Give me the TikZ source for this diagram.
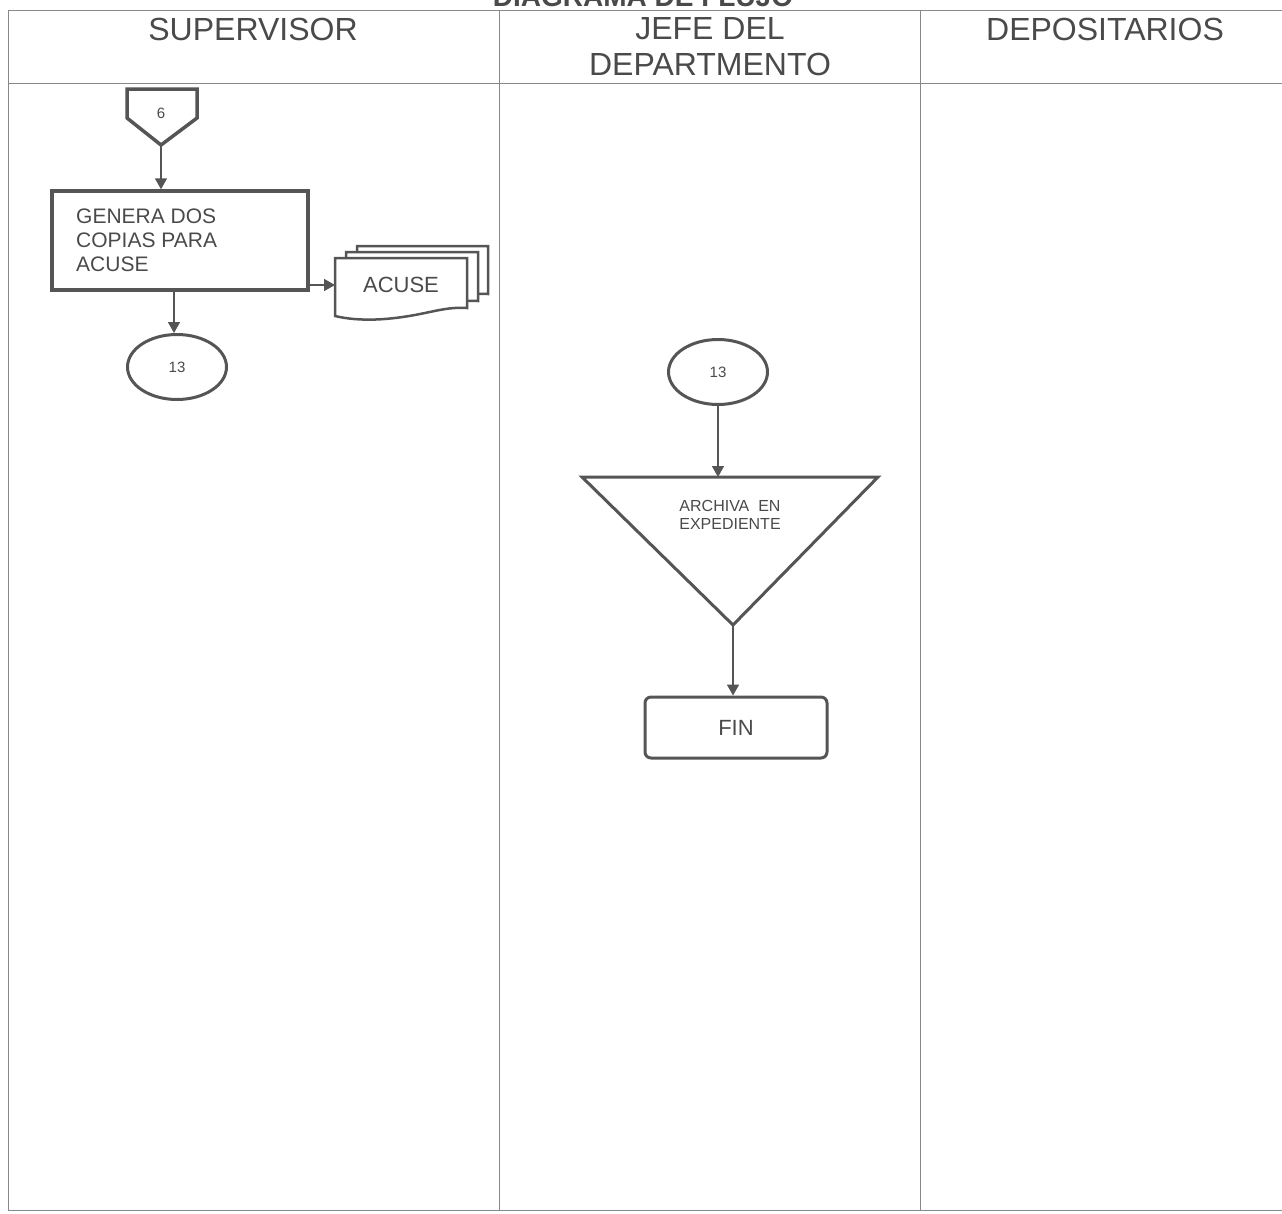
\documentclass[tikz,border=0pt]{standalone}
\usepackage{fontspec}
\setmainfont{Liberation Sans}
\usetikzlibrary{shapes.geometric,arrows.meta}
\definecolor{ln}{HTML}{555555}
\definecolor{tx}{HTML}{4A4A4A}
\tikzset{
  lane/.style={draw=ln!70, line width=1pt},
  hdr/.style={text=tx, font=\fontsize{32}{36}\selectfont, align=center, inner sep=0pt},
  thick box/.style={draw=ln, line width=3.5pt},
  conn/.style={draw=ln, line width=1.6pt, -{Triangle[length=11pt,width=12pt]}},
  lbl/.style={text=tx, inner sep=0pt},
}
\begin{document}
\begin{tikzpicture}[x=1pt,y=-1pt]
\useasboundingbox (0,0) rectangle (1282,1213);
% title (cut off at top, as in the reference)
\node[anchor=base, font=\bfseries\fontsize{28}{30}\selectfont, text=tx, inner sep=0pt] (title) at (643,6) {DIAGRAMA DE FLUJO};
% table
\draw[lane] (8,10) -- (1282,10);
\draw[lane] (8,83) -- (1282,83);
\draw[lane] (8,10) -- (8,1210);
\draw[lane] (499,10) -- (499,1210);
\draw[lane] (920,10) -- (920,1210);
\draw[lane] (8,1210) -- (1282,1210);
\node[hdr] (h1) at (253,29) {SUPERVISOR};
\node[hdr] (h2) at (710,47) {JEFE DEL\\DEPARTMENTO};
\node[hdr] (h3) at (1105,29) {DEPOSITARIOS};
% off-page connector 6
\draw[thick box, line join=miter] (127,89) -- (197,89) -- (197,118) -- (161,145) -- (127,118) -- cycle;
\node[lbl, font=\fontsize{15}{17}\selectfont] (c6) at (161,113) {6};
\coordinate (c6b) at (161,145);
% process box
\node[thick box, minimum width=256pt, minimum height=99pt, inner sep=0pt] (gen) at (180,240.5) {};
\node[lbl, anchor=north west, align=left, font=\fontsize{21}{24}\selectfont] (gent) at (76,209) {GENERA DOS\\COPIAS PARA\\ACUSE};
\draw[conn] (c6b) -- (gen.north -| c6b);
% ellipse 13 left
\node[draw=ln, line width=3pt, ellipse, minimum width=99pt, minimum height=65pt, inner sep=0pt, font=\fontsize{15}{17}\selectfont, text=tx] (e1) at (177,367) {13};
\draw[conn] (174,290) -- (174,333);
% document stack
\begin{scope}[draw=ln, line width=2.5pt, fill=white]
\filldraw (357,246) -- (488,246) -- (488,294) .. controls (470,293) and (460,296) .. (440,300) .. controls (410,306) and (380,308) .. (357,302) -- cycle;
\filldraw (346,252) -- (478,252) -- (478,301) .. controls (460,300) and (450,303) .. (430,307) .. controls (400,313) and (370,315) .. (346,309) -- cycle;
\filldraw (335,258) -- (467,258) -- (467,308) .. controls (450,307) and (440,310) .. (420,314) .. controls (390,320) and (360,322) .. (335,316) -- cycle;
\end{scope}
\node[lbl, font=\fontsize{22}{24}\selectfont] (acuse) at (401,285) {ACUSE};
\coordinate (acuseL) at (335,285);
\draw[conn] (gen.east |- acuseL) -- (acuseL);
% right lane
\node[draw=ln, line width=3pt, ellipse, minimum width=99pt, minimum height=65pt, inner sep=0pt, font=\fontsize{15}{17}\selectfont, text=tx] (e2) at (718,372) {13};
\draw[draw=ln, line width=3pt, line join=miter] (582,477) -- (878,477) -- (733,625) -- cycle;
\coordinate (trtop) at (718,477);
\coordinate (trbot) at (733,625);
\node[lbl, align=center, font=\fontsize{16}{17.5}\selectfont] (arch) at (730,515) {ARCHIVA\ \ EN\\EXPEDIENTE};
\draw[conn] (e2.south) -- (trtop);
\node[draw=ln, line width=3pt, rounded corners=6pt, minimum width=182pt, minimum height=61pt, inner sep=0pt, font=\fontsize{22}{24}\selectfont, text=tx] (fin) at (736,727.5) {FIN};
\draw[conn] (trbot) -- (fin.north -| trbot);
\end{tikzpicture}
\end{document}
